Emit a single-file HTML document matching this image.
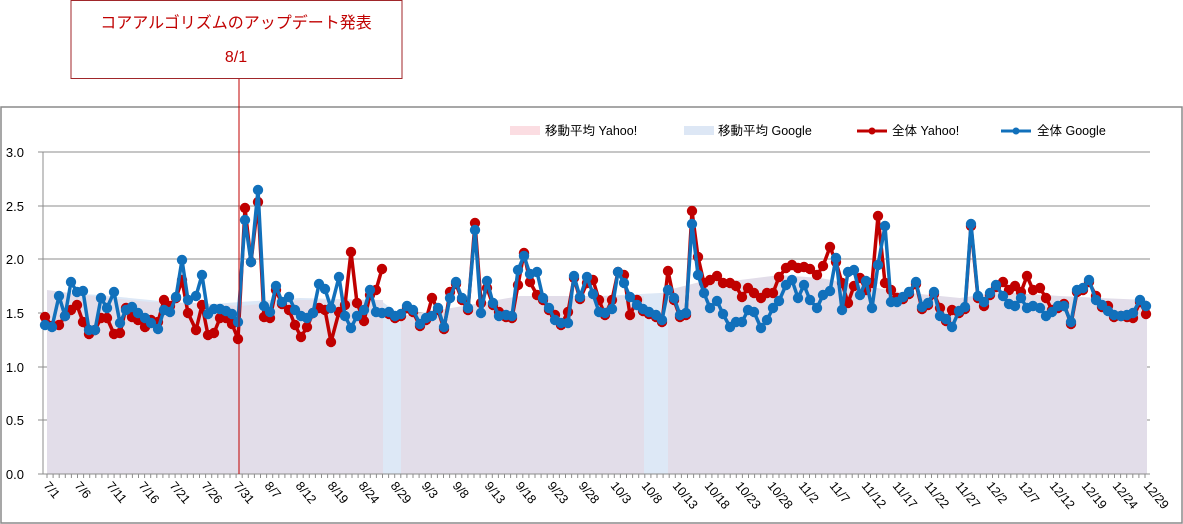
<!DOCTYPE html>
<html><head><meta charset="utf-8"><style>
html,body{margin:0;padding:0;background:#fff;}
svg{display:block;font-family:"Liberation Sans","Noto Sans CJK JP",sans-serif;}
</style></head><body>
<svg id="s" width="1183" height="524" xmlns="http://www.w3.org/2000/svg">
<rect x="1" y="107" width="1181" height="416" fill="#fff" stroke="#8a8a8a" stroke-width="1.5"/>
<g stroke="#8c8c8c" stroke-width="1">
<line x1="38" y1="152" x2="1150" y2="152"/>
<line x1="38" y1="206" x2="1150" y2="206"/>
<line x1="38" y1="259" x2="1150" y2="259"/>
<line x1="38" y1="313" x2="1150" y2="313"/>
<line x1="38" y1="367" x2="1150" y2="367"/>
<line x1="38" y1="420" x2="1150" y2="420"/>
</g>
<polygon fill="#dde8f6" points="47,474 47,292 100,295 150,300 200,305 240,302 300,298 380,300 420,330 440,338 460,310 520,300 600,296 680,292 760,288 800,282 840,285 880,292 920,300 1000,296 1060,300 1100,300 1147,302 1147,474"/>
<polygon fill="#e2dde9" points="47,474 47,290 100,297 150,302 200,303 240,306 300,300 383,300 383,474"/>
<polygon fill="#e2dde9" points="401,474 401,316 440,310 480,303 520,296 600,296 644,296 644,474"/>
<polygon fill="#e2dde9" points="668,474 668,290 700,282 740,280 780,275 820,278 860,285 900,292 960,298 1000,292 1060,296 1100,298 1147,300 1147,474"/>
<line x1="43" y1="152" x2="43" y2="474" stroke="#8c8c8c"/>
<line x1="38" y1="474" x2="1150" y2="474" stroke="#8c8c8c"/>
<g id="ticks" stroke="#8c8c8c"></g>
<g font-size="13" fill="#000" text-anchor="end">
<text x="24" y="157">3.0</text><text x="24" y="211">2.5</text><text x="24" y="264">2.0</text>
<text x="24" y="318">1.5</text><text x="24" y="372">1.0</text><text x="24" y="425">0.5</text><text x="24" y="479">0.0</text>
</g>
<g id="xl" font-size="12.5" fill="#000"></g>
<g id="series"></g>
<line x1="239" y1="79" x2="239" y2="474" stroke="#c00000" stroke-width="1"/>
<rect x="71" y="0.5" width="331" height="78" fill="#fff" stroke="#a0262a" stroke-width="1"/>
<text x="236" y="28" font-size="16" fill="#c00000" text-anchor="middle">コアアルゴリズムのアップデート発表</text>
<text x="236" y="62" font-size="16" fill="#c00000" text-anchor="middle">8/1</text>
<g font-size="12.5" fill="#000">
<rect x="510" y="126" width="30" height="9" fill="#fbdde2"/><text x="545" y="135">移動平均 Yahoo!</text>
<rect x="684" y="126" width="30" height="9" fill="#dde7f5"/><text x="718" y="135">移動平均 Google</text>
<line x1="857" y1="131" x2="887" y2="131" stroke="#c00000" stroke-width="3"/><circle cx="872" cy="131" r="3.5" fill="#c00000"/><text x="892" y="135">全体 Yahoo!</text>
<line x1="1001" y1="131" x2="1031" y2="131" stroke="#1170bb" stroke-width="3"/><circle cx="1016" cy="131" r="3.5" fill="#1170bb"/><text x="1037" y="135">全体 Google</text>
</g>
</svg>
<script>
var NS="http://www.w3.org/2000/svg";
function el(t,a,p){var e=document.createElementNS(NS,t);for(var k in a)e.setAttribute(k,a[k]);if(p)p.appendChild(e);return e;}
var tk=document.getElementById('ticks');
for(var x=47;x<=1150;x+=6.1){el('line',{x1:x,y1:474,x2:x,y2:478},tk);}
var labs=[["7/1",47],["7/6",78],["7/11",110],["7/16",142],["7/21",173],["7/26",205],["7/31",237],["8/7",268],["8/12",299],["8/19",331],["8/24",362],["8/29",394],["9/3",425],["9/8",456],["9/13",488],["9/18",519],["9/23",551],["9/28",582],["10/3",614],["10/8",645],["10/13",676],["10/18",708],["10/23",739],["10/28",771],["11/2",802],["11/7",833],["11/12",865],["11/17",896],["11/22",928],["11/27",959],["12/2",990],["12/7",1022],["12/12",1053],["12/19",1085],["12/24",1116],["12/29",1147]];
var xl=document.getElementById('xl');
labs.forEach(function(l){var t=el('text',{x:0,y:0,transform:'translate('+(l[1]-4)+',486) rotate(50)'},xl);t.textContent=l[0];});
var blue=[[45,325],[52,327],[59,296],[65,316],[71,282],[77,292],[83,291],[89,330],[95,330],[101,298],[107,308],[114,292],[120,323],[126,310],[132,307],[138,313],[145,318],[151,323],[158,329],[164,310],[170,312],[176,297],[182,260],[188,300],[196,296],[202,275],[208,314],[214,309],[220,309],[226,311],[232,314],[238,322],[245,220],[251,262],[258,190],[264,306],[270,312],[276,286],[282,302],[289,297],[295,310],[301,316],[307,318],[313,313],[319,284],[325,289],[331,308],[339,277],[345,316],[351,328],[357,316],[364,310],[370,290],[376,312],[382,313],[389,312],[395,316],[401,314],[407,306],[413,310],[420,324],[426,318],[432,316],[438,308],[444,327],[450,298],[456,282],[462,298],[468,308],[475,230],[481,313],[487,281],[493,303],[499,316],[506,315],[512,316],[518,270],[524,256],[530,274],[537,272],[543,298],[549,308],[555,320],[561,323],[568,323],[574,276],[580,297],[587,277],[593,294],[599,312],[605,313],[612,309],[618,272],[624,283],[630,297],[637,305],[643,309],[649,312],[656,315],[662,320],[668,290],[674,298],[680,315],[686,313],[692,224],[698,275],[704,293],[710,308],[717,301],[723,314],[730,327],[736,322],[742,322],[748,310],[754,312],[761,328],[767,320],[773,308],[779,301],[786,285],[792,280],[798,298],[804,285],[810,300],[817,308],[823,295],[830,291],[836,258],[842,310],[848,272],[854,270],[860,295],[866,281],[872,308],[878,265],[885,226],[891,302],[897,302],[903,297],[909,292],[916,282],[922,307],[928,303],[934,292],[940,316],[946,319],[952,327],[959,311],[965,307],[971,224],[978,296],[984,302],[990,293],[996,285],[1003,296],[1009,304],[1015,306],[1021,298],[1027,308],[1033,306],[1040,308],[1046,316],[1052,312],[1058,306],[1064,306],[1071,322],[1077,290],[1083,288],[1089,280],[1096,300],[1102,305],[1108,311],[1114,315],[1121,316],[1127,315],[1133,313],[1140,300],[1146,306]];
var redOver={45:317,52:326,59:325,65:316,71:310,77:305,83:322,89:334,95:330,101:318,107:318,114:334,120:333,126:308,132:317,138:320,145:327,151:320,158:322,164:300,170:306,176:298,182:280,188:313,196:330,202:305,208:335,214:333,220:318,226:318,232:324,238:339,245:208,251:262,258:202,264:317,270:318,276:290,282:304,289:310,295:325,301:337,307:327,313:313,319:308,325:310,331:342,339:312,345:305,351:252,357:303,364:321,370:295,376:290,382:269,
432:298,450:292,475:223,481:303,487:288,499:312,518:285,524:253,530:282,537:295,555:315,568:312,587:283,593:280,599:300,612:300,618:272,624:275,630:315,637:300,668:271,692:211,698:257,704:283,710:280,717:276,723:283,730:283,736:286,742:297,748:288,754:293,761:298,767:293,773:293,779:277,786:268,792:265,798:268,804:267,810:269,817:275,823:266,830:247,836:262,842:283,848:303,854:286,860:278,866:290,872:283,878:216,885:283,891:290,897:298,940:308,952:310,984:306,1003:282,1009:290,1015:286,1021:292,1027:276,1033:290,1040:288,1046:298,1052:310,1064:304,1096:296,1108:306,1121:316,1133:318,1146:314};
var red=blue.filter(function(p){return p[0]<=382||p[0]>=389;}).map(function(p){return [p[0],redOver[p[0]]!==undefined?redOver[p[0]]:p[1]+2];});
var g=document.getElementById('series');
function draw(pts,col,segs){
 segs.forEach(function(s){el('polyline',{points:s.map(function(p){return p.join(',')}).join(' '),fill:'none',stroke:col,'stroke-width':3.5,'stroke-linejoin':'round'},g);});
 pts.forEach(function(p){el('circle',{cx:p[0],cy:p[1],r:5.2,fill:col},g);});
}
draw(red,'#c00000',[red.filter(function(p){return p[0]<=382}),red.filter(function(p){return p[0]>=389})]);
draw(blue,'#1170bb',[blue]);
</script>
</body></html>
